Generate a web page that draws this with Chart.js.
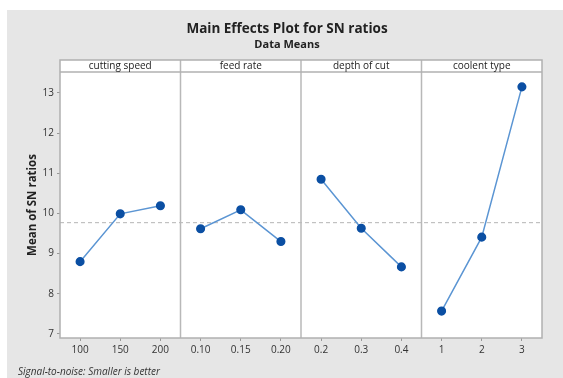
<!DOCTYPE html>
<html><head><meta charset="utf-8">
<script src="https://cdn.jsdelivr.net/npm/chart.js@4/dist/chart.umd.min.js"></script>
<style>
html,body{margin:0;padding:0;background:#fff;}
#bg{position:absolute;left:7px;top:10px;width:556px;height:368px;background:#e6e6e6;}
#wrap{position:absolute;left:0;top:0;width:563px;height:378px;}
</style></head>
<body>
<div id="bg"></div>
<div id="wrap"><canvas id="c"></canvas></div>
<script>
const chartTitle = 'Main Effects Plot for SN ratios';
const chartSubtitle = 'Data Means';
const footerText = 'Signal-to-noise: Smaller is better';
const factors = ["cutting speed", "feed rate", "depth of cut", "coolent type"];
const levelLabels = ["100","150","200","0.10","0.15","0.20","0.2","0.3","0.4","1","2","3"];
const cuttingSpeed = [8.80, 9.99, 10.19];
const feedRate = [9.62, 10.09, 9.30];
const depthOfCut = [10.85, 9.63, 8.67];
const coolentType = [7.57, 9.41, 13.15];
const overallMean = 9.77;
const yTicks = [7, 8, 9, 10, 11, 12, 13];

const series = [cuttingSpeed, feedRate, depthOfCut, coolentType];
const FONT = "'Open Sans', 'Noto Sans', sans-serif";

const datasets = series.map((vals, i) => ({
  label: factors[i],
  data: levelLabels.map((l, j) => Math.floor(j / 3) === i ? vals[j % 3] : null),
  spanGaps: false,
  borderColor: '#5b95d3',
  borderWidth: 1.5,
  pointBackgroundColor: '#0b4fa3',
  pointBorderColor: '#0b4fa3',
  pointRadius: 3.8,
  pointHoverRadius: 3.8,
  tension: 0
}));

const panelPlugin = {
  id: 'panels',
  beforeDraw(chart) {
    const {ctx, chartArea: a} = chart;
    ctx.save();
    ctx.fillStyle = '#ffffff';
    ctx.fillRect(a.left, a.top - 12, a.right - a.left, a.bottom - a.top + 12);
    // titles
    ctx.fillStyle = '#222';
    ctx.textAlign = 'center';
    ctx.textBaseline = 'middle';
    ctx.font = 'bold 13.5px ' + FONT;
    ctx.fillText(chartTitle, 287, 29);
    ctx.font = 'bold 11px ' + FONT;
    ctx.fillText(chartSubtitle, 287, 45);
    // footer
    ctx.font = 'italic 10px ' + FONT;
    ctx.textAlign = 'left';
    ctx.fillStyle = '#333';
    ctx.fillText(footerText, 18, 372);
    ctx.restore();
  },
  beforeDatasetsDraw(chart) {
    const {ctx, chartArea: a, scales: {x, y}} = chart;
    ctx.save();
    const ym = y.getPixelForValue(overallMean);
    ctx.strokeStyle = '#b4b4b4';
    ctx.lineWidth = 1;
    ctx.setLineDash([4, 3]);
    ctx.beginPath();
    ctx.moveTo(a.left, ym); ctx.lineTo(a.right, ym);
    ctx.stroke();
    ctx.setLineDash([]);
    ctx.strokeStyle = '#b8b8b8';
    ctx.lineWidth = 1.5;
    for (let k = 1; k < factors.length; k++) {
      const px = (x.getPixelForValue(3 * k - 1) + x.getPixelForValue(3 * k)) / 2;
      ctx.beginPath();
      ctx.moveTo(px, a.top - 12); ctx.lineTo(px, a.bottom);
      ctx.stroke();
    }
    ctx.strokeStyle = '#b0b0b0';
    ctx.lineWidth = 1.5;
    ctx.strokeRect(a.left, a.top - 12, a.right - a.left, a.bottom - a.top + 12);
    ctx.beginPath();
    ctx.moveTo(a.left, a.top); ctx.lineTo(a.right, a.top);
    ctx.stroke();
    ctx.fillStyle = '#222';
    ctx.font = '10px ' + FONT;
    ctx.textAlign = 'center';
    ctx.textBaseline = 'middle';
    for (let k = 0; k < factors.length; k++) {
      const cx = x.getPixelForValue(3 * k + 1);
      ctx.fillText(factors[k], cx, a.top - 6);
    }
    ctx.restore();
  }
};

new Chart(document.getElementById('c'), {
  type: 'line',
  data: { labels: levelLabels, datasets },
  plugins: [panelPlugin],
  options: {
    responsive: true,
    maintainAspectRatio: false,
    animation: false,
    events: [],
    layout: { padding: { left: 0, right: 21, top: 72, bottom: 0 } },
    plugins: {
      legend: { display: false },
      tooltip: { enabled: false },
      title: { display: false },
      subtitle: { display: false }
    },
    scales: {
      x: {
        type: 'category',
        offset: true,
        afterFit(s) { s.height = 40; },
        grid: { display: true, drawOnChartArea: false, drawTicks: true, tickLength: 3, color: '#999', offset: false },
        border: { display: false },
        ticks: { color: '#333', font: { family: FONT, size: 10 }, padding: 3, maxRotation: 0, autoSkip: false }
      },
      y: {
        min: 6.9,
        max: 13.52,
        afterFit(s) { s.width = 60; },
        afterBuildTicks(s) { s.ticks = yTicks.map(v => ({ value: v })); },
        grid: { display: true, drawOnChartArea: false, drawTicks: true, tickLength: 3, color: '#999' },
        border: { display: false },
        ticks: { color: '#333', font: { family: FONT, size: 10 }, padding: 3 },
        title: {
          display: true,
          text: 'Mean of SN ratios',
          color: '#222',
          font: { family: FONT, size: 11.5, weight: 'bold', lineHeight: 1.2 },
          padding: { top: 26, bottom: 0 }
        }
      }
    }
  }
});
</script>
</body></html>
